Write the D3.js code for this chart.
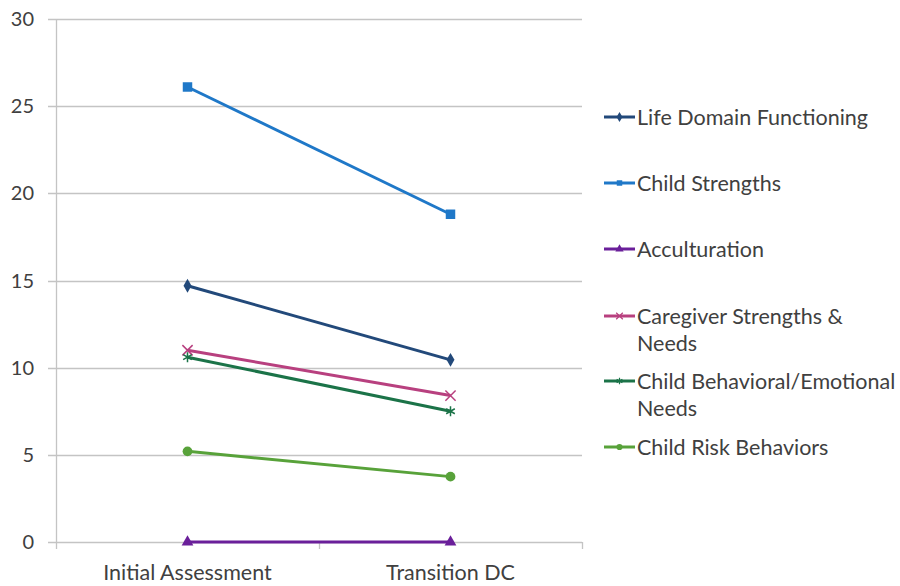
<!DOCTYPE html>
<html>
<head>
<meta charset="utf-8">
<script src="https://cdn.jsdelivr.net/npm/d3@7"></script>
<style>
  body { margin: 0; background: #fff; }
  text { font-family: Lato, "Open Sans", sans-serif; fill: #404040; }
</style>
</head>
<body>
<div id="chart"></div>
<script>
(function () {

  // Datos
  const categories = ['Initial Assessment', 'Transition DC']
  const seriesNames = [
    'Life Domain Functioning',
    'Child Strengths',
    'Acculturation',
    'Caregiver Strengths & Needs',
    'Child Behavioral/Emotional Needs',
    'Child Risk Behaviors'
  ]
  const lifeDomain = [14.7, 10.45]
  const childStrengths = [26.1, 18.8]
  const acculturation = [0, 0]
  const caregiver = [11.0, 8.4]
  const childBehavioral = [10.6, 7.5]
  const childRisk = [5.2, 3.75]
  const yTicks = [0, 5, 10, 15, 20, 25, 30]

  const colors = ['#22497a', '#1f78c8', '#6a1f9a', '#b8407f', '#1b7348', '#58a23a']
  const markers = ['diamond', 'square', 'triangle', 'cross', 'star', 'circle']
  // lineas de la leyenda (una o dos)
  const legendLines = [
    ['Life Domain Functioning'],
    ['Child Strengths'],
    ['Acculturation'],
    ['Caregiver Strengths &', 'Needs'],
    ['Child Behavioral/Emotional', 'Needs'],
    ['Child Risk Behaviors']
  ]

  const allValues = [lifeDomain, childStrengths, acculturation, caregiver, childBehavioral, childRisk]
  const series = seriesNames.map((name, i) => ({ name, values: allValues[i], color: colors[i], marker: markers[i] }))

  const width = 900, height = 586
  const margin = { top: 19, right: 318, bottom: 44, left: 56 }

  const svg = d3.select('#chart').append('svg')
    .attr('width', width).attr('height', height)

  const x = d3.scaleBand()
    .domain(categories)
    .range([margin.left, width - margin.right])

  const y = d3.scaleLinear()
    .domain([0, 30])
    .range([height - margin.bottom, margin.top])

  const gridColor = '#c4c4c4'

  // Lineas horizontales
  svg.append('g')
    .selectAll('line')
    .data(yTicks)
    .join('line')
    .attr('x1', margin.left - 8)
    .attr('x2', width - margin.right)
    .attr('y1', d => Math.round(y(d)) + 0.5)
    .attr('y2', d => Math.round(y(d)) + 0.5)
    .attr('stroke', gridColor)
    .attr('stroke-width', 1.3)

  // Eje vertical
  svg.append('line')
    .attr('x1', margin.left + 0.5).attr('x2', margin.left + 0.5)
    .attr('y1', y(30)).attr('y2', y(0))
    .attr('stroke', gridColor).attr('stroke-width', 1.3)

  // Ticks del eje x
  const xTickPos = [x.range()[0]].concat(categories.map(c => x(c) + x.bandwidth()))
  svg.append('g')
    .selectAll('line')
    .data(xTickPos)
    .join('line')
    .attr('x1', d => Math.round(d) + 0.5)
    .attr('x2', d => Math.round(d) + 0.5)
    .attr('y1', y(0))
    .attr('y2', y(0) + 7)
    .attr('stroke', gridColor).attr('stroke-width', 1.3)

  // Etiquetas del eje y
  svg.append('g')
    .selectAll('text')
    .data(yTicks)
    .join('text')
    .attr('x', 34)
    .attr('y', d => y(d))
    .attr('dy', '0.35em')
    .attr('text-anchor', 'end')
    .attr('font-size', 20)
    .text(d => d)

  // Etiquetas del eje x
  svg.append('g')
    .selectAll('text')
    .data(categories)
    .join('text')
    .attr('x', d => x(d) + x.bandwidth() / 2)
    .attr('y', y(0) + 30)
    .attr('dy', '0.35em')
    .attr('text-anchor', 'middle')
    .attr('font-size', 21.5)
    .text(d => d)

  const symbolFor = m => {
    if (m === 'diamond') return d3.symbol(d3.symbolDiamond, 55)
    if (m === 'square') return d3.symbol(d3.symbolSquare, 90)
    if (m === 'triangle') return d3.symbol(d3.symbolTriangle, 60)
    if (m === 'cross') return d3.symbol(d3.symbolX, 70)
    if (m === 'star') return d3.symbol(d3.symbolAsterisk, 70)
    return d3.symbol(d3.symbolCircle, 75)
  }
  const strokeOnly = m => m === 'cross' || m === 'star'

  const line = d3.line()
    .x((d, i) => x(categories[i]) + x.bandwidth() / 2)
    .y(d => y(d))

  const groups = svg.append('g')
    .selectAll('g')
    .data(series)
    .join('g')

  groups.append('path')
    .attr('d', d => line(d.values))
    .attr('fill', 'none')
    .attr('stroke', d => d.color)
    .attr('stroke-width', 3)

  groups.each(function (s) {
    d3.select(this).selectAll('path.mk')
      .data(s.values)
      .join('path')
      .attr('class', 'mk')
      .attr('transform', (d, i) => `translate(${x(categories[i]) + x.bandwidth() / 2},${y(d)})`)
      .attr('d', symbolFor(s.marker))
      .attr('fill', strokeOnly(s.marker) ? 'none' : s.color)
      .attr('stroke', s.color)
      .attr('stroke-width', strokeOnly(s.marker) ? 1.5 : 0)
  })

  // Leyenda
  const legendY = [117, 183, 249, 316, 381, 447]
  const legend = svg.append('g')
    .selectAll('g')
    .data(series)
    .join('g')
    .attr('transform', (d, i) => `translate(604,${legendY[i]})`)

  legend.append('line')
    .attr('x1', 0).attr('x2', 31)
    .attr('stroke', d => d.color).attr('stroke-width', 3)

  legend.append('path')
    .attr('transform', 'translate(15.5,0)')
    .attr('d', d => d3.symbol(symbolFor(d.marker).type(), 30)())
    .attr('fill', d => strokeOnly(d.marker) ? 'none' : d.color)
    .attr('stroke', d => d.color)
    .attr('stroke-width', d => strokeOnly(d.marker) ? 1.2 : 0)

  legend.each(function (d, i) {
    d3.select(this).selectAll('text')
      .data(legendLines[i])
      .join('text')
      .attr('x', 33)
      .attr('y', (t, j) => j * 27)
      .attr('dy', '0.35em')
      .attr('font-size', 21.5)
      .text(t => t)
  })

})()
</script>
</body>
</html>
